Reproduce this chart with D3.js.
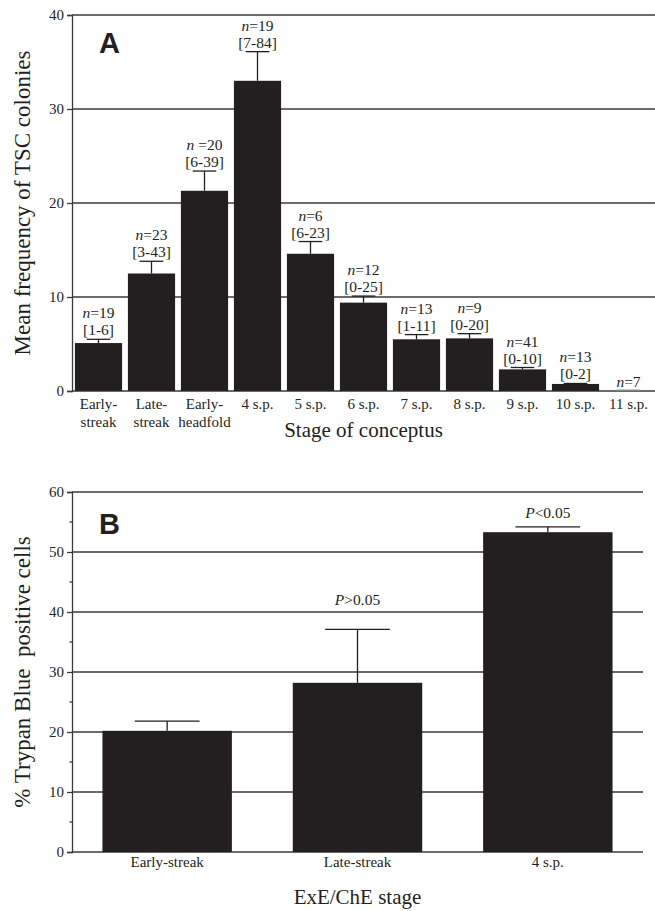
<!DOCTYPE html>
<html>
<head>
<meta charset="utf-8">
<script src="https://cdn.jsdelivr.net/npm/d3@7"></script>
<style>
  html, body { margin: 0; padding: 0; background: #fff; }
  svg { display: block; }
  text { font-family: "Liberation Serif", "Times New Roman", serif; fill: #231f20; }
  text.letter { font-family: "Liberation Sans", Arial, sans-serif; font-weight: bold; }
</style>
</head>
<body>
<svg id="chart" width="655" height="911"></svg>
<script>
// ---------- Panel A data ----------
const stagesA = ["Early-streak", "Late-streak", "Early-headfold", "4 s.p.", "5 s.p.", "6 s.p.", "7 s.p.", "8 s.p.", "9 s.p.", "10 s.p.", "11 s.p."];
const tickLinesA = [["Early-", "streak"], ["Late-", "streak"], ["Early-", "headfold"], ["4 s.p."], ["5 s.p."], ["6 s.p."], ["7 s.p."], ["8 s.p."], ["9 s.p."], ["10 s.p."], ["11 s.p."]];
const meansA = [5.1, 12.5, 21.3, 33.0, 14.6, 9.4, 5.5, 5.6, 2.3, 0.75, 0];
const errTopA = [5.5, 13.8, 23.4, 36.1, 15.9, 10.1, 6.0, 6.1, 2.5, 0.8, 0];
const nA = ["19", "23", " =20", "19", "6", "12", "13", "9", "41", "13", "7"];
const rangesA = ["[1-6]", "[3-43]", "[6-39]", "[7-84]", "[6-23]", "[0-25]", "[1-11]", "[0-20]", "[0-10]", "[0-2]", ""];
const yTicksA = [0, 10, 20, 30, 40];

// ---------- Panel B data ----------
const stagesB = ["Early-streak", "Late-streak", "4 s.p."];
const meansB = [20.2, 28.2, 53.3];
const errTopB = [21.8, 37.1, 54.2];
const pLabelsB = ["", ">0.05", "<0.05"];
const pLabelAtB = [null, 41.2, 55.6];
const yTicksB = [0, 10, 20, 30, 40, 50, 60];
const yMinorB = [5, 15, 25, 35, 45, 55];

const ink = "#231f20";
const grid = "#3a3a3a";
const svg = d3.select("#chart");

// ================= PANEL A =================
(function () {
  const left = 72, right = 655, top = 15, bottom = 391;
  const x = d3.scaleBand().domain(stagesA).range([left, right]).paddingInner(0.11).paddingOuter(0.055);
  const y = d3.scaleLinear().domain([0, 40]).range([bottom, top]);
  const g = svg.append("g");

  g.selectAll("line.grid").data(yTicksA).join("line")
    .attr("x1", left).attr("x2", right)
    .attr("y1", d => y(d)).attr("y2", d => y(d))
    .attr("stroke", grid).attr("stroke-width", 1.3);

  const ay = g.append("g").attr("transform", `translate(${left},0)`)
    .call(d3.axisLeft(y).tickValues(yTicksA).tickSize(5).tickPadding(3).tickFormat(d3.format("d")));
  ay.select(".domain").attr("stroke", grid).attr("stroke-width", 1.3);
  ay.selectAll(".tick line").attr("stroke", grid).attr("stroke-width", 1.3);
  ay.selectAll(".tick text").attr("font-family", "Liberation Serif").attr("font-size", 15).attr("fill", ink);

  g.selectAll("rect.bar").data(stagesA).join("rect")
    .attr("x", d => x(d)).attr("width", x.bandwidth())
    .attr("y", (d, i) => y(meansA[i]))
    .attr("height", (d, i) => y(0) - y(meansA[i]))
    .attr("fill", ink);

  const bw = x.bandwidth();
  stagesA.forEach((s, i) => {
    if (errTopA[i] <= meansA[i]) return;
    const cx = x(s) + bw / 2;
    g.append("line").attr("x1", cx).attr("x2", cx).attr("y1", y(meansA[i])).attr("y2", y(errTopA[i]))
      .attr("stroke", ink).attr("stroke-width", 1.3);
    g.append("line").attr("x1", cx - bw / 4).attr("x2", cx + bw / 4).attr("y1", y(errTopA[i])).attr("y2", y(errTopA[i]))
      .attr("stroke", ink).attr("stroke-width", 1.3);
  });
  g.append("line").attr("x1", x("11 s.p.") + bw / 4).attr("x2", x("11 s.p.") + 3 * bw / 4)
    .attr("y1", y(0) - 1).attr("y2", y(0) - 1).attr("stroke", "#999").attr("stroke-width", 1);

  stagesA.forEach((s, i) => {
    const cx = x(s) + bw / 2;
    const base = y(errTopA[i]) - 4;
    const hasRange = rangesA[i] !== "";
    const nText = g.append("text").attr("x", cx).attr("y", hasRange ? base - 17 : base)
      .attr("text-anchor", "middle").attr("font-size", 15.5);
    nText.append("tspan").attr("font-style", "italic").text("n");
    nText.append("tspan").style("white-space", "pre").text(nA[i].startsWith(" ") ? nA[i] : "=" + nA[i]);
    if (hasRange) {
      g.append("text").attr("x", cx).attr("y", base).attr("text-anchor", "middle")
        .attr("font-size", 15.5).text(rangesA[i]);
    }
  });

  stagesA.forEach((s, i) => {
    const cx = x(s) + bw / 2;
    tickLinesA[i].forEach((ln, k) => {
      g.append("text").attr("x", cx).attr("y", 409 + k * 17.5).attr("text-anchor", "middle")
        .attr("font-size", 15).text(ln);
    });
  });

  g.append("text").attr("x", (left + right) / 2).attr("y", 437).attr("text-anchor", "middle")
    .attr("font-size", 21).text("Stage of conceptus");
  g.append("text").attr("transform", `translate(30,${(top + bottom) / 2}) rotate(-90)`)
    .attr("text-anchor", "middle").attr("font-size", 23).text("Mean frequency of TSC colonies");

  g.append("text").attr("class", "letter").attr("x", 99).attr("y", 53).attr("font-size", 29).text("A");
})();

// ================= PANEL B =================
(function () {
  const left = 72, right = 643, top = 492, bottom = 852;
  const x = d3.scaleBand().domain(stagesB).range([left, right]).paddingInner(0.32).paddingOuter(0.16);
  const y = d3.scaleLinear().domain([0, 60]).range([bottom, top]);
  const g = svg.append("g");

  g.selectAll("line.grid").data(yTicksB).join("line")
    .attr("x1", left).attr("x2", right)
    .attr("y1", d => y(d)).attr("y2", d => y(d))
    .attr("stroke", grid).attr("stroke-width", 1.3);

  const ay = g.append("g").attr("transform", `translate(${left},0)`)
    .call(d3.axisLeft(y).tickValues(yTicksB).tickSize(5).tickPadding(3).tickFormat(d3.format("d")));
  ay.select(".domain").attr("stroke", grid).attr("stroke-width", 1.3);
  ay.selectAll(".tick line").attr("stroke", grid).attr("stroke-width", 1.3);
  ay.selectAll(".tick text").attr("font-family", "Liberation Serif").attr("font-size", 15).attr("fill", ink);

  g.selectAll("line.minor").data(yMinorB).join("line")
    .attr("x1", left - 2.5).attr("x2", left)
    .attr("y1", d => y(d)).attr("y2", d => y(d))
    .attr("stroke", grid).attr("stroke-width", 1.3);

  const bw = x.bandwidth();
  g.selectAll("rect.bar").data(stagesB).join("rect")
    .attr("x", d => x(d)).attr("width", bw)
    .attr("y", (d, i) => y(meansB[i]))
    .attr("height", (d, i) => y(0) - y(meansB[i]))
    .attr("fill", ink);

  stagesB.forEach((s, i) => {
    const cx = x(s) + bw / 2;
    g.append("line").attr("x1", cx).attr("x2", cx).attr("y1", y(meansB[i])).attr("y2", y(errTopB[i]))
      .attr("stroke", ink).attr("stroke-width", 1.3);
    g.append("line").attr("x1", cx - bw / 4).attr("x2", cx + bw / 4).attr("y1", y(errTopB[i])).attr("y2", y(errTopB[i]))
      .attr("stroke", ink).attr("stroke-width", 1.3);
    if (pLabelsB[i]) {
      const t = g.append("text").attr("x", cx).attr("y", y(pLabelAtB[i])).attr("text-anchor", "middle").attr("font-size", 15.5);
      t.append("tspan").attr("font-style", "italic").text("P");
      t.append("tspan").text(pLabelsB[i]);
    }
    g.append("text").attr("x", cx).attr("y", 867).attr("text-anchor", "middle").attr("font-size", 15).text(s);
  });

  g.append("text").attr("x", (left + right) / 2).attr("y", 904).attr("text-anchor", "middle")
    .attr("font-size", 21).text("ExE/ChE stage");
  g.append("text").attr("transform", `translate(30,${(top + bottom) / 2}) rotate(-90)`)
    .attr("text-anchor", "middle").attr("font-size", 23).style("white-space", "pre")
    .text("% Trypan Blue  positive cells");

  g.append("text").attr("class", "letter").attr("x", 99).attr("y", 534).attr("font-size", 29).text("B");
})();
</script>
</body>
</html>
